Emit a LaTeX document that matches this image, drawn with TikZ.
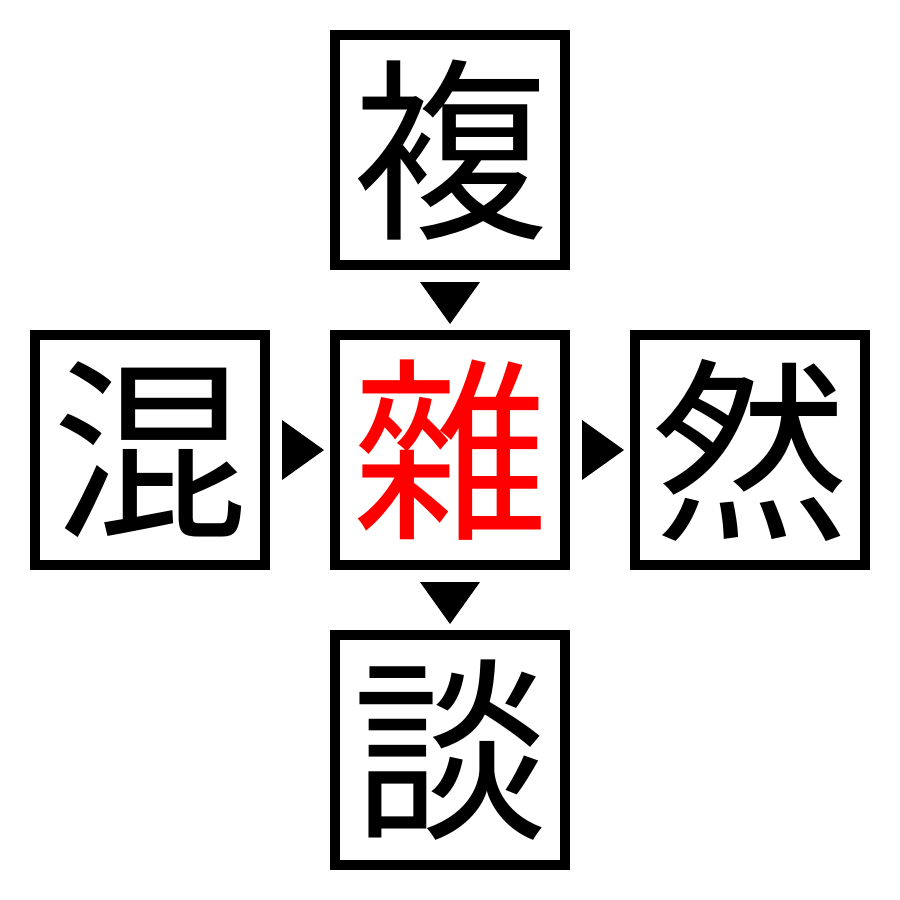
\documentclass[tikz,border=0pt]{standalone}
\usepackage{fontspec}
\newfontfamily\cjk{Noto Sans CJK JP}
\begin{document}
\begin{tikzpicture}[x=1pt,y=-1pt,
  kbox/.style={draw=black,line width=10pt,minimum size=230pt,inner sep=0pt,
    font=\cjk\fontsize{196}{196}\selectfont,text=black},
  tri/.style={fill=black,draw=none}]
\useasboundingbox (0,0) rectangle (900,900);
\node[kbox] (top) at (450,150) {複};
\node[kbox,text=red] (mid) at (450,450) {雜};
\node[kbox] (left) at (150,450) {混};
\node[kbox] (right) at (750,450) {然};
\node[kbox] (bot) at (450,750) {談};
\fill[tri] (420,282) -- (480,282) -- (450,324) -- cycle;
\fill[tri] (420,582) -- (480,582) -- (450,624) -- cycle;
\fill[tri] (282,420) -- (282,480) -- (324,450) -- cycle;
\fill[tri] (582,420) -- (582,480) -- (624,450) -- cycle;
\end{tikzpicture}
\end{document}
